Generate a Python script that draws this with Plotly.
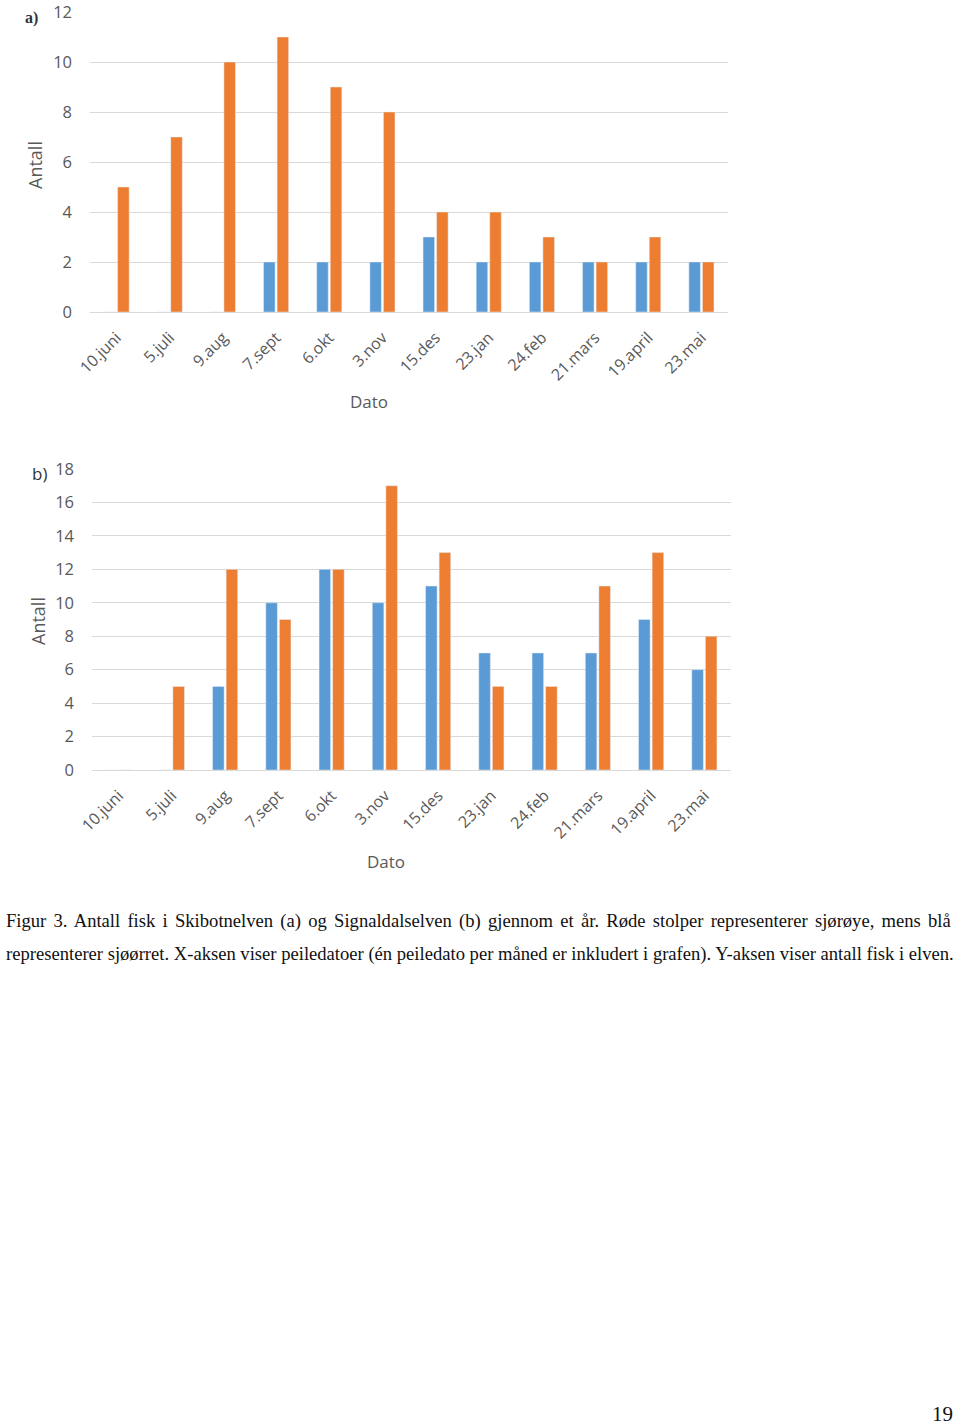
import plotly.graph_objects as go

W, H = 960, 1428

categories = ["10.juni", "5.juli", "9.aug", "7.sept", "6.okt", "3.nov",
              "15.des", "23.jan", "24.feb", "21.mars", "19.april", "23.mai"]

# a) Skibotnelven
a_sjoorret = [0, 0, 0, 2, 2, 2, 3, 2, 2, 2, 2, 2]      # blue
a_sjoroye = [5, 7, 10, 11, 9, 8, 4, 4, 3, 2, 3, 2]     # orange
# b) Signaldalselven
b_sjoorret = [0, 0, 5, 10, 12, 10, 11, 7, 7, 7, 9, 6]
b_sjoroye = [0, 5, 12, 9, 12, 17, 13, 5, 5, 11, 13, 8]

a_yticks = [0, 2, 4, 6, 8, 10, 12]
b_yticks = [0, 2, 4, 6, 8, 10, 12, 14, 16, 18]

BLUE = "#5b9bd5"
ORANGE = "#ed7d31"
GRID = "#d9d9d9"
TXT = "#595959"
FONT = "Open Sans"

caption1 = ("Figur 3. Antall fisk i Skibotnelven (a) og Signaldalselven (b) gjennom et år. "
            "Røde stolper representerer sjørøye, mens blå")
caption2 = ("representerer sjøørret. X-aksen viser peiledatoer (én peiledato per måned er "
            "inkludert i grafen). Y-aksen viser antall fisk i elven.")


def px(x):
    return x / W


def py(y):
    return 1 - y / H


fig = go.Figure()
fig.add_trace(go.Bar(x=categories, y=a_sjoorret, marker_color=BLUE, xaxis="x", yaxis="y",
                     name="Sjøørret", showlegend=False))
fig.add_trace(go.Bar(x=categories, y=a_sjoroye, marker_color=ORANGE, xaxis="x", yaxis="y",
                     name="Sjørøye", showlegend=False))
fig.add_trace(go.Bar(x=categories, y=b_sjoorret, marker_color=BLUE, xaxis="x2", yaxis="y2",
                     name="Sjøørret", showlegend=False))
fig.add_trace(go.Bar(x=categories, y=b_sjoroye, marker_color=ORANGE, xaxis="x2", yaxis="y2",
                     name="Sjørøye", showlegend=False))

xcommon = dict(type="category", tickangle=-45, showgrid=False, showline=True,
               linecolor=GRID, linewidth=1, ticks="", zeroline=False, automargin=False,
               ticklabelstandoff=9, ticklabeloverflow="allow",
               tickfont=dict(family=FONT, size=16, color=TXT), fixedrange=True)
ycommon = dict(showgrid=True, gridcolor=GRID, gridwidth=1, zeroline=False,
               showline=False, ticks="", ticklabelstandoff=17, automargin=False,
               ticklabeloverflow="allow",
               tickfont=dict(family=FONT, size=16.5, color=TXT), fixedrange=True)

fig.update_layout(
    width=W, height=H, autosize=False,
    margin=dict(l=0, r=0, t=0, b=0, pad=0, autoexpand=False),
    showlegend=False,
    paper_bgcolor="white", plot_bgcolor="white",
    barmode="group", bargap=0.49, bargroupgap=0.15,
    xaxis=dict(domain=[px(90), px(728)], anchor="y", **xcommon),
    yaxis=dict(domain=[py(312), py(12)], anchor="x", range=[0, 12],
               tickvals=a_yticks, **ycommon),
    xaxis2=dict(domain=[px(92), px(731)], anchor="y2", **xcommon),
    yaxis2=dict(domain=[py(770), py(469)], anchor="x2", range=[0, 18],
                tickvals=b_yticks, **ycommon),
)

ann = []


def add_text(text, x, y, size, color=TXT, family=FONT, angle=0, xanchor="center"):
    ann.append(dict(text=text, x=px(x), y=py(y), xref="paper", yref="paper",
                    showarrow=False, xanchor=xanchor, yanchor="middle",
                    textangle=angle, font=dict(family=family, size=size, color=color)))


add_text("Dato", 369, 401, 17)
add_text("Antall", 35, 165, 18, angle=-90)
add_text("Dato", 386, 861, 17)
add_text("Antall", 38, 621, 18, angle=-90)
add_text("<b>a)</b>", 31, 18, 16, color="#333333", family="Liberation Serif")
add_text("b)", 39, 474, 17, color="#333333")
add_text('<span style="word-spacing:2.6px">' + caption1 + '</span>', 4, 921, 18.6,
         color="#111111", family="Liberation Serif", xanchor="left")
add_text(caption2, 4, 954, 18.6, color="#111111", family="Liberation Serif", xanchor="left")
add_text("19", 942, 1414, 21, color="#111111", family="Liberation Serif")

fig.update_layout(annotations=ann)
fig.write_html("out.html", config={"displayModeBar": False},
               post_script="document.body.style.margin='0';document.body.style.overflow='hidden';")
